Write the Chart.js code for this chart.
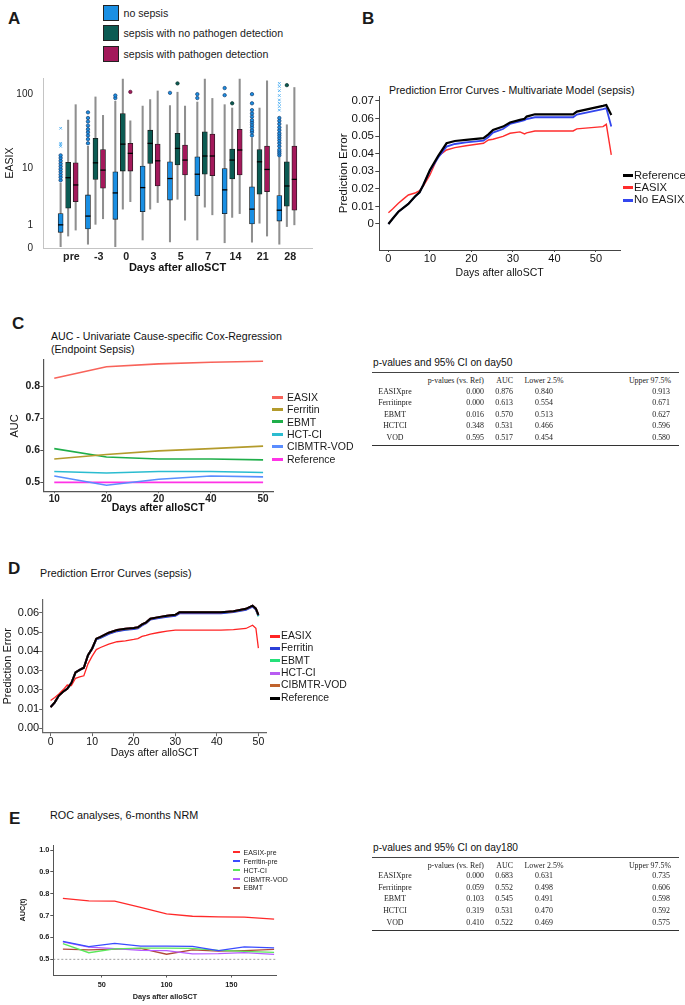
<!DOCTYPE html>
<html>
<head>
<meta charset="utf-8">
<script src="https://cdn.jsdelivr.net/npm/chart.js@4.4.0/dist/chart.umd.min.js"></script>
<style>
  body { margin: 0; background: #fff; }
  #page { position: relative; width: 685px; height: 1005px; overflow: hidden;
          font-family: 'Liberation Sans', Arial, sans-serif; color: #1a1a1a; }
  .t { position: absolute; white-space: nowrap; line-height: 1; }
  .serif { font-family: 'Liberation Serif', 'Times New Roman', serif; color: #222; }
  canvas { position: absolute; }
  .sw { position: absolute; }
</style>
</head>
<body>
<div id="page"></div>
<script>
// ---------- A: EASIX boxplots ----------
const aCats = ['pre', '-3', '0', '3', '5', '7', '14', '21', '28'];
const aYTicks = [0, 1, 10, 100];
const aGroupNames = ['no sepsis', 'sepsis with no pathogen detection', 'sepsis with pathogen detection'];
// each entry: [lower whisker, q1, median, q3, upper whisker]
const noSepsisBox = [[0.04, 0.6, 1.0, 1.8, 6.0], [0.12, 0.77, 1.6, 3.9, 20], [0.04, 1.36, 4.2, 8.8, 80],
  [0.27, 1.96, 5.1, 10.6, 69], [0.2, 3.2, 7.0, 12.2, 70], [0.27, 3.8, 8.1, 14.3, 78],
  [0.17, 1.8, 4.7, 9.8, 72], [0.19, 1.05, 2.2, 5.25, 26], [0.12, 1.24, 2.1, 3.8, 14]];
const noPathogenBox = [[0.43, 2.3, 7.2, 12, 45], [1.03, 6.8, 11.8, 25.6, 91], [2.2, 9.0, 21.4, 55, 156],
  [2.2, 11.6, 21.9, 33, 84], [3.3, 11.0, 18.7, 30, 105], [2.4, 8.1, 14.7, 31.4, 156],
  [1.5, 6.9, 12.9, 18.3, 65], [1.1, 4.0, 12.2, 18.1, 65], [0.9, 2.5, 5.4, 12.2, 39]];
const pathogenBox = [[0.71, 3.0, 5.6, 11.8, 72], [1.4, 5.0, 9.3, 18.1, 52], [3.0, 9.0, 16.0, 21.9, 44],
  [2.9, 5.4, 12.6, 21.4, 109], [1.3, 7.9, 12.9, 20.8, 69], [1.7, 7.7, 14.7, 29.2, 87],
  [1.8, 7.9, 17.8, 34, 156], [0.43, 4.4, 9.5, 20.1, 148], [1.0, 2.1, 6.8, 20.1, 121]];
const noSepsisOut = [[6.6, 7.3, 8, 8.8, 9.6, 10.5, 11.5, 12.6, 13.8, 15], [22, 25, 28, 31, 34, 38, 43, 48, 57],
  [88, 95], [], [103], [88, 99], [96, 119], [28, 31, 33, 36, 39, 42, 45, 50, 55, 61, 75, 99],
  [15, 16, 17, 18, 20, 22, 24, 26, 28, 30, 33, 36, 40, 44, 48]];
const noSepsisFar = [[20, 21, 22, 35], [], [], [], [], [], [], [], [61, 68, 75, 83, 95, 110, 125, 137]];
const noPathogenOut = [[], [], [], [], [137], [], [75], [], [130]];
const pathogenOut = [[], [], [106], [], [], [], [], [], []];

// ---------- B: multivariate prediction error ----------
const bDays = [0, 1, 2.4, 3.5, 4.8, 6.4, 7.5, 8.4, 10, 12, 14, 16, 18.7, 22.9, 24.1, 25.2, 27.6, 29.3, 31.7, 32.8, 33.3, 35.3, 44.5, 45.4, 51.7, 52.5, 53.7];
const bReference = [0, 0.0030, 0.0070, 0.0090, 0.0114, 0.0156, 0.0180, 0.0222, 0.0307, 0.0387, 0.0459, 0.0472, 0.0478, 0.0488, 0.0510, 0.0535, 0.0554, 0.0577, 0.0592, 0.0598, 0.0611, 0.0624, 0.0624, 0.0639, 0.0672, 0.0677, 0.0620];
const bEASIX = [0.0064, 0.0085, 0.0118, 0.0140, 0.0165, 0.0176, 0.0190, 0.0216, 0.0279, 0.0385, 0.0421, 0.0434, 0.0445, 0.0459, 0.0478, 0.0482, 0.0498, 0.0516, 0.0524, 0.0512, 0.0518, 0.0529, 0.0529, 0.0541, 0.0554, 0.0567, 0.0393];
const bNoEASIX = [0, 0.0030, 0.0070, 0.0090, 0.0114, 0.0156, 0.0180, 0.0222, 0.0302, 0.0378, 0.0440, 0.0455, 0.0464, 0.0474, 0.0495, 0.0520, 0.0540, 0.0569, 0.0583, 0.0590, 0.0597, 0.0607, 0.0607, 0.0622, 0.0653, 0.0659, 0.0554];
const bXTicks = [0, 10, 20, 30, 40, 50];
const bYTicks = [0, 0.01, 0.02, 0.03, 0.04, 0.05, 0.06, 0.07];
const bYLabels = ['0', '0.01', '0.02', '0.03', '0.04', '0.05', '0.06', '0.07'];

// ---------- C: univariate AUC ----------
const cDays = [10, 20, 30, 40, 50];
const cXLabels = ['10', '20', '20', '40', '50'];
const cYTicks = [0.5, 0.6, 0.7, 0.8];
const cEASIX = [0.824, 0.860, 0.869, 0.874, 0.877];
const cFerritin = [0.573, 0.587, 0.598, 0.605, 0.613];
const cEBMT = [0.605, 0.579, 0.573, 0.573, 0.570];
const cHCTCI = [0.534, 0.529, 0.534, 0.534, 0.531];
const cCIBMTR = [0.520, 0.491, 0.510, 0.520, 0.517];
const cReference = [0.5, 0.5, 0.5, 0.5, 0.5];

const tabCols = ['', 'p-values (vs. Ref)', 'AUC', 'Lower 2.5%', 'Upper 97.5%'];
const tabNames = ['EASIXpre', 'Ferritinpre', 'EBMT', 'HCTCI', 'VOD'];
const c50P = ['0.000', '0.000', '0.016', '0.348', '0.595'];
const c50AUC = ['0.876', '0.613', '0.570', '0.531', '0.517'];
const c50Lower = ['0.840', '0.554', '0.513', '0.466', '0.454'];
const c50Upper = ['0.913', '0.671', '0.627', '0.596', '0.580'];

// ---------- D: univariate prediction error ----------
const dDays = [0, 1, 2, 3, 4, 5, 6, 7, 8, 9, 10, 11, 12, 14, 16, 18, 20, 21, 22, 23, 24, 26, 28, 30, 31, 36, 41, 44, 47, 48.6, 49.4, 50];
const dEASIX = [0.0144, 0.0160, 0.0178, 0.0200, 0.0225, 0.0222, 0.0260, 0.0267, 0.0273, 0.0335, 0.0375, 0.0409, 0.0420, 0.0438, 0.0450, 0.0455, 0.0462, 0.0466, 0.0478, 0.0483, 0.0490, 0.0498, 0.0505, 0.0510, 0.0510, 0.0510, 0.0510, 0.0513, 0.0519, 0.0536, 0.0520, 0.0417];
const dFerritin = [0.0110, 0.0135, 0.0170, 0.0190, 0.0205, 0.0235, 0.0290, 0.0304, 0.0315, 0.0380, 0.0413, 0.0462, 0.0470, 0.0491, 0.0505, 0.0512, 0.0516, 0.0520, 0.0535, 0.0546, 0.0565, 0.0573, 0.0580, 0.0585, 0.0598, 0.0598, 0.0598, 0.0604, 0.0616, 0.0633, 0.0617, 0.0586];
const dEBMT = [0.0110, 0.0135, 0.0170, 0.0190, 0.0205, 0.0235, 0.0290, 0.0304, 0.0315, 0.0380, 0.0414, 0.0464, 0.0472, 0.0494, 0.0508, 0.0514, 0.0519, 0.0523, 0.0538, 0.0549, 0.0568, 0.0576, 0.0583, 0.0588, 0.0601, 0.0601, 0.0601, 0.0607, 0.0619, 0.0636, 0.0620, 0.0582];
const dHCTCI = [0.0110, 0.0135, 0.0170, 0.0190, 0.0205, 0.0235, 0.0290, 0.0304, 0.0315, 0.0380, 0.0415, 0.0466, 0.0475, 0.0497, 0.0511, 0.0517, 0.0521, 0.0525, 0.0540, 0.0551, 0.0570, 0.0578, 0.0585, 0.0590, 0.0603, 0.0603, 0.0603, 0.0609, 0.0621, 0.0638, 0.0622, 0.0590];
const dCIBMTR = [0.0110, 0.0135, 0.0170, 0.0190, 0.0205, 0.0235, 0.0290, 0.0304, 0.0315, 0.0380, 0.0415, 0.0466, 0.0475, 0.0497, 0.0511, 0.0517, 0.0521, 0.0525, 0.0540, 0.0551, 0.0570, 0.0578, 0.0585, 0.0590, 0.0603, 0.0603, 0.0603, 0.0609, 0.0621, 0.0638, 0.0622, 0.0590];
const dReference = [0.0110, 0.0135, 0.0170, 0.0190, 0.0205, 0.0235, 0.0290, 0.0304, 0.0315, 0.0380, 0.0415, 0.0466, 0.0475, 0.0497, 0.0511, 0.0517, 0.0521, 0.0525, 0.0540, 0.0551, 0.0570, 0.0578, 0.0585, 0.0590, 0.0603, 0.0603, 0.0603, 0.0609, 0.0621, 0.0638, 0.0622, 0.0590];
const dXTicks = [0, 10, 20, 30, 40, 50];
const dYTicks = [0, 0.01, 0.02, 0.03, 0.04, 0.05, 0.06];
const dYLabels = ['0.00', '0.01', '0.03', '0.03', '0.04', '0.05', '0.06'];

// ---------- E: ROC, 6-months NRM ----------
const eDays = [20, 40, 60, 80, 100, 120, 140, 160, 183];
const eEASIX = [0.779, 0.767, 0.766, 0.738, 0.708, 0.697, 0.694, 0.693, 0.684];
const eFerritin = [0.582, 0.558, 0.573, 0.560, 0.560, 0.559, 0.540, 0.557, 0.552];
const eHCTCI = [0.572, 0.530, 0.548, 0.551, 0.551, 0.550, 0.541, 0.536, 0.532];
const eCIBMTR = [0.580, 0.556, 0.549, 0.541, 0.540, 0.525, 0.526, 0.530, 0.522];
const eEBMT = [0.546, 0.543, 0.546, 0.550, 0.523, 0.543, 0.537, 0.540, 0.545];
const eChance = 0.5;
const eXTicks = [50, 100, 150];
const eYTicks = [0.5, 0.6, 0.7, 0.8, 0.9, 1.0];

const e180P = ['0.000', '0.059', '0.103', '0.319', '0.410'];
const e180AUC = ['0.683', '0.552', '0.545', '0.531', '0.522'];
const e180Lower = ['0.631', '0.498', '0.491', '0.470', '0.469'];
const e180Upper = ['0.735', '0.606', '0.598', '0.592', '0.575'];

// ---------- helpers ----------
Chart.defaults.font.family = "'Liberation Sans', Arial, sans-serif";
Chart.defaults.color = '#111';
Chart.defaults.animation = false;
Chart.defaults.responsive = false;
Chart.defaults.plugins.legend.display = false;
Chart.defaults.plugins.tooltip.enabled = false;
Chart.defaults.elements.point.radius = 0;
Chart.defaults.elements.line.tension = 0;

const page = document.getElementById('page');

function txt(s, x, cy, size, align, style) {
  const d = document.createElement('div');
  d.className = 't';
  d.textContent = s;
  d.style.left = x + 'px';
  d.style.top = (cy - size / 2) + 'px';
  d.style.fontSize = size + 'px';
  if (align === 'right') d.style.transform = 'translateX(-100%)';
  if (align === 'center') d.style.transform = 'translateX(-50%)';
  Object.assign(d.style, style || {});
  page.appendChild(d);
  return d;
}

function rect(x, y, w, h, style) {
  const d = document.createElement('div');
  d.className = 'sw';
  Object.assign(d.style, { left: x + 'px', top: y + 'px', width: w + 'px', height: h + 'px' }, style);
  page.appendChild(d);
}

function canvasAt(x, y, w, h) {
  const c = document.createElement('canvas');
  c.width = w; c.height = h;
  c.style.left = x + 'px'; c.style.top = y + 'px';
  c.style.width = w + 'px'; c.style.height = h + 'px';
  page.appendChild(c);
  return c;
}

const fixTicks = vals => s => { s.ticks = vals.map(v => ({ value: v })); };
const pts = (xs, ys) => xs.map((x, i) => ({ x: x, y: ys[i] }));

function lineLegend(items, x, ys, lw, lh, tx, size) {
  items.forEach((it, i) => {
    rect(x, ys[i] - lh / 2, lw, lh, { background: it.color });
    txt(it.label, tx, ys[i], size, 'left', { color: '#1a1a1a' });
  });
}

function pTable(rule, title, p, auc, lo, up) {
  txt(title, 373, rule - 9.5, 10.2, 'left', { color: '#111' });
  rect(372, rule - 0.4, 307, 0.8, { background: '#444' });
  rect(372, rule + 72.5, 307, 1.1, { background: '#333' });
  const anchors = [[395, 'center'], [484, 'right'], [513, 'right'], [544, 'center'], [670, 'right']];
  const fs = 7.9;
  tabCols.forEach((h, j) => {
    if (h) txt(h, anchors[j][0] + (j === 4 ? 1 : 0), rule + 8.7, fs, anchors[j][1]).classList.add('serif');
  });
  tabNames.forEach((n, i) => {
    const y = rule + 19 + i * 11.55;
    [n, p[i], auc[i], lo[i], up[i]].forEach((v, j) => {
      txt(v, anchors[j][0], y, fs, anchors[j][1]).classList.add('serif');
    });
  });
}

// ================= Panel A =================
txt('A', 8, 18, 17, 'left', { fontWeight: 'bold' });
const aColors = ['#1a8fe3', '#0b5b53', '#a3195b'];
const aDark = ['#163c6e', '#062e2a', '#4e0b2b'];
aGroupNames.forEach((n, i) => {
  const top = [5, 25, 45.5][i];
  rect(103, top, 14, 14, { background: aColors[i], border: '1.2px solid #222' });
  txt(n, 123.5, top + 8.5, 10.6, 'left', { color: '#1a1a1a' });
});

const T = v => Math.log10(v + 1);
const aBoxes = [noSepsisBox, noPathogenBox, pathogenBox];
const aOuts = [noSepsisOut, noPathogenOut, pathogenOut];
const aSets = [];
aBoxes.forEach((box, g) => {
  const xs = aCats.map((c, i) => i + (g - 1) * 0.275);
  aSets.push({ type: 'bar', order: 4, grouped: false, barThickness: 1.4, borderSkipped: false,
    data: box.map((b, i) => ({ x: xs[i], y: [T(b[0]), T(b[4])] })),
    backgroundColor: '#8f8f8f', borderWidth: 0 });
  aSets.push({ type: 'bar', order: 3, grouped: false, barThickness: 5, borderSkipped: false,
    data: box.map((b, i) => ({ x: xs[i], y: [T(b[1]), T(b[3])] })),
    backgroundColor: aColors[g], borderColor: '#1b1b1b', borderWidth: 0.8 });
  aSets.push({ type: 'scatter', order: 2,
    data: box.map((b, i) => ({ x: xs[i], y: T(b[2]) })),
    pointStyle: 'line', pointRadius: 2.6, borderColor: '#000', borderWidth: 1.3 });
  aSets.push({ type: 'scatter', order: 1,
    data: aOuts[g].flatMap((o, i) => o.map(v => ({ x: xs[i], y: T(v) }))),
    pointStyle: 'circle', pointRadius: 1.7, backgroundColor: aColors[g], borderColor: aDark[g], borderWidth: 0.7 });
});
aSets.push({ type: 'scatter', order: 0,
  data: noSepsisFar.flatMap((o, i) => o.map(v => ({ x: i - 0.275, y: T(v) }))),
  pointStyle: 'crossRot', pointRadius: 1.8, borderColor: '#55b2f2', borderWidth: 1 });

new Chart(canvasAt(0, 58, 322, 224), {
  type: 'bar',
  data: { datasets: aSets },
  options: {
    layout: { padding: { top: 20, right: 10, left: 0, bottom: 0 } },
    scales: {
      x: { type: 'linear', min: -0.92, max: 8.92, offset: false,
        grid: { display: false, drawTicks: false, tickLength: 0 }, border: { color: '#c4c4c4' },
        afterBuildTicks: fixTicks(aCats.map((c, i) => i + 0.12)),
        ticks: { callback: (v, i) => aCats[i], autoSkip: false, maxRotation: 0, padding: 2.3,
          font: { size: 10.7, weight: 'bold' }, color: '#222' },
        title: { display: true, text: 'Days after alloSCT', font: { size: 11, weight: 'bold' },
          color: '#111', padding: { top: 0, bottom: 7.4 } },
        afterFit: s => { s.height = 34; } },
      y: { type: 'linear', min: 0, max: 2.21,
        grid: { display: false, drawTicks: false, tickLength: 0 }, border: { color: '#c4c4c4' },
        afterBuildTicks: fixTicks(aYTicks.map(T)),
        ticks: { callback: (v, i) => String(aYTicks[i]), padding: 10, font: { size: 10 }, color: '#222' },
        title: { display: true, text: 'EASIX', font: { size: 10.5 }, color: '#111', padding: { top: 4, bottom: 0 } },
        afterFit: s => { s.width = 43; } }
    }
  }
});

// ================= Panel B =================
txt('B', 362, 18, 17, 'left', { fontWeight: 'bold' });
txt('Prediction Error Curves - Multivariate Model (sepsis)', 389, 90.7, 10.6, 'left', { color: '#111' });
new Chart(canvasAt(336, 76, 294, 208), {
  type: 'line',
  data: { datasets: [
    { label: 'Reference', data: pts(bDays, bReference), borderColor: '#000', borderWidth: 2.2, order: 0 },
    { label: 'No EASIX', data: pts(bDays, bNoEASIX), borderColor: '#3346ee', borderWidth: 1.8, order: 1 },
    { label: 'EASIX', data: pts(bDays, bEASIX), borderColor: '#ff2d2d', borderWidth: 1.4, order: 2 }
  ] },
  options: {
    layout: { padding: { top: 20.7, right: 10, left: 0, bottom: 0 } },
    scales: {
      x: { type: 'linear', min: -2.2, max: 55.8,
        grid: { display: true, drawOnChartArea: false, tickLength: 2, color: '#444' }, border: { color: '#444' },
        afterBuildTicks: fixTicks(bXTicks),
        ticks: { callback: v => String(v), padding: 0, font: { size: 11 }, color: '#111' },
        title: { display: true, text: 'Days after alloSCT', font: { size: 10.5 }, color: '#111', padding: { top: 0, bottom: 5 } },
        afterFit: s => { s.height = 34; } },
      y: { type: 'linear', min: -0.0148, max: 0.0724,
        grid: { display: true, drawOnChartArea: false, tickLength: 4, color: '#444' }, border: { color: '#444' },
        afterBuildTicks: fixTicks(bYTicks),
        ticks: { callback: (v, i) => bYLabels[i], padding: 1.3, font: { size: 11.5 }, color: '#111' },
        title: { display: true, text: 'Prediction Error', font: { size: 11.5 }, color: '#111', padding: { top: 0.5, bottom: 0 } },
        afterFit: s => { s.width = 43.3; } }
    }
  }
});
lineLegend([{ label: 'Reference', color: '#000' }, { label: 'EASIX', color: '#ff2d2d' }, { label: 'No EASIX', color: '#3346ee' }],
  623, [175.5, 187.7, 200], 10, 3, 634, 11.2);

// ================= Panel C =================
txt('C', 12, 323, 17, 'left', { fontWeight: 'bold' });
txt('AUC - Univariate Cause-specific Cox-Regression', 51, 336, 10.6, 'left', { color: '#111' });
txt('(Endpoint Sepsis)', 51, 349.3, 10.6, 'left', { color: '#111' });
const cSeries = [
  { label: 'EASIX', data: cEASIX, color: '#f8635a' },
  { label: 'Ferritin', data: cFerritin, color: '#b39b2c' },
  { label: 'EBMT', data: cEBMT, color: '#1fae4a' },
  { label: 'HCT-CI', data: cHCTCI, color: '#2bbcd0' },
  { label: 'CIBMTR-VOD', data: cCIBMTR, color: '#5a8dff' },
  { label: 'Reference', data: cReference, color: '#ff33e6' }
];
new Chart(canvasAt(0, 340, 282, 178), {
  type: 'line',
  data: { datasets: cSeries.map(s => ({ label: s.label, data: pts(cDays, s.data), borderColor: s.color, borderWidth: 1.6 })) },
  options: {
    layout: { padding: { top: 20, right: 9, left: 0, bottom: 0 } },
    scales: {
      x: { type: 'linear', min: 7.9, max: 51.9,
        grid: { display: true, drawOnChartArea: false, tickLength: 1.5, color: '#555' }, border: { color: '#555', width: 1.2 },
        afterBuildTicks: fixTicks(cDays),
        ticks: { callback: (v, i) => cXLabels[i], padding: 0, font: { size: 10, weight: 'bold' }, color: '#222' },
        title: { display: true, text: 'Days after alloSCT', font: { size: 10.5, weight: 'bold' }, color: '#111', padding: { top: 0, bottom: 3.7 } },
        afterFit: s => { s.height = 26.3; } },
      y: { type: 'linear', min: 0.471, max: 0.881,
        grid: { display: true, drawOnChartArea: false, tickLength: 3, color: '#555' }, border: { color: '#555', width: 1.2 },
        afterBuildTicks: fixTicks(cYTicks),
        ticks: { callback: v => v.toFixed(1), padding: 0.3, font: { size: 10.5, weight: 'bold' }, color: '#222' },
        title: { display: true, text: 'AUC', font: { size: 11 }, color: '#111', padding: { top: 8, bottom: 0 } },
        afterFit: s => { s.width = 43.3; } }
    }
  }
});
lineLegend(cSeries, 272, [397.3, 409.7, 421.8, 434, 446.5, 459.5], 11, 3, 287, 10.5);
pTable(372.7, 'p-values and 95% CI on day50', c50P, c50AUC, c50Lower, c50Upper);

// ================= Panel D =================
txt('D', 8, 568, 17, 'left', { fontWeight: 'bold' });
txt('Prediction Error Curves (sepsis)', 40, 573, 10.7, 'left', { color: '#111' });
const dSeries = [
  { label: 'EASIX', data: dEASIX, color: '#ff2424', w: 1.3, order: 1 },
  { label: 'Ferritin', data: dFerritin, color: '#2b3fd8', w: 2, order: 4 },
  { label: 'EBMT', data: dEBMT, color: '#25e07a', w: 2, order: 5 },
  { label: 'HCT-CI', data: dHCTCI, color: '#b85cf2', w: 2, order: 3 },
  { label: 'CIBMTR-VOD', data: dCIBMTR, color: '#c0622c', w: 2, order: 2 },
  { label: 'Reference', data: dReference, color: '#000', w: 2, order: 0 }
];
new Chart(canvasAt(0, 580, 275, 180), {
  type: 'line',
  data: { datasets: dSeries.map(s => ({ label: s.label, data: pts(dDays, s.data), borderColor: s.color, borderWidth: s.w, order: s.order })) },
  options: {
    layout: { padding: { top: 20, right: 8.3, left: 0, bottom: 0 } },
    scales: {
      x: { type: 'linear', min: -1.9, max: 52,
        grid: { display: true, drawOnChartArea: false, tickLength: 3.5, color: '#666' }, border: { color: '#666', width: 1.2 },
        afterBuildTicks: fixTicks(dXTicks),
        ticks: { callback: v => String(v), padding: 0, font: { size: 10.5 }, color: '#111' },
        title: { display: true, text: 'Days after alloSCT', font: { size: 10.5 }, color: '#111', padding: { top: 0, bottom: 0.7 } },
        afterFit: s => { s.height = 27.3; } },
      y: { type: 'linear', min: -0.0023, max: 0.0667,
        grid: { display: true, drawOnChartArea: false, tickLength: 3.5, color: '#666' }, border: { color: '#666', width: 1.2 },
        afterBuildTicks: fixTicks(dYTicks),
        ticks: { callback: (v, i) => dYLabels[i], padding: 0, font: { size: 11 }, color: '#111' },
        title: { display: true, text: 'Prediction Error', font: { size: 11 }, color: '#111', padding: { top: 1, bottom: 0 } },
        afterFit: s => { s.width = 42.7; } }
    }
  }
});
lineLegend(dSeries, 270, [636, 648.5, 660.7, 673, 685.5, 698], 10, 3, 281, 10.4);

// ================= Panel E =================
txt('E', 9, 818, 17, 'left', { fontWeight: 'bold' });
txt('ROC analyses, 6-months NRM', 50, 815, 10.8, 'left', { color: '#111' });
const eSeries = [
  { label: 'EASIX-pre', data: eEASIX, color: '#ff2a2a' },
  { label: 'Ferritin-pre', data: eFerritin, color: '#3a4cff' },
  { label: 'HCT-CI', data: eHCTCI, color: '#5be85b' },
  { label: 'CIBMTR-VOD', data: eCIBMTR, color: '#b65cff' },
  { label: 'EBMT', data: eEBMT, color: '#b0493a' }
];
const eSets = eSeries.map(s => ({ label: s.label, data: pts(eDays, s.data), borderColor: s.color, borderWidth: 1.3 }));
eSets.push({ label: 'chance', data: [{ x: 12.6, y: eChance }, { x: 185, y: eChance }],
  borderColor: '#888', borderWidth: 0.8, borderDash: [2, 2], order: 9 });
new Chart(canvasAt(0, 825, 285, 180), {
  type: 'line',
  data: { datasets: eSets },
  options: {
    layout: { padding: { top: 20, right: 8.3, left: 0, bottom: 0 } },
    scales: {
      x: { type: 'linear', min: 12.6, max: 185,
        grid: { display: true, drawOnChartArea: false, tickLength: 2.5, color: '#555' }, border: { color: '#555' },
        afterBuildTicks: fixTicks(eXTicks),
        ticks: { callback: v => String(v), padding: 3, font: { size: 7.3, weight: 'bold' }, color: '#222' },
        title: { display: true, text: 'Days after alloSCT', font: { size: 7.3, weight: 'bold' }, color: '#222', padding: { top: 0, bottom: 3.5 } },
        afterFit: s => { s.height = 30; } },
      y: { type: 'linear', min: 0.428, max: 1.023,
        grid: { display: true, drawOnChartArea: false, tickLength: 3, color: '#555' }, border: { color: '#555' },
        afterBuildTicks: fixTicks(eYTicks),
        ticks: { callback: v => v.toFixed(1), padding: 1, font: { size: 7.3, weight: 'bold' }, color: '#222' },
        title: { display: true, text: 'AUC(t)', font: { size: 7.3, weight: 'bold' }, color: '#222', padding: { top: 18.8, bottom: 0 } },
        afterFit: s => { s.width = 53.3; } }
    }
  }
});
lineLegend(eSeries, 233, [852.3, 861, 870, 879, 887.7], 7, 2, 243.5, 7);
pTable(857.3, 'p-values and 95% CI on day180', e180P, e180AUC, e180Lower, e180Upper);
</script>
</body>
</html>
